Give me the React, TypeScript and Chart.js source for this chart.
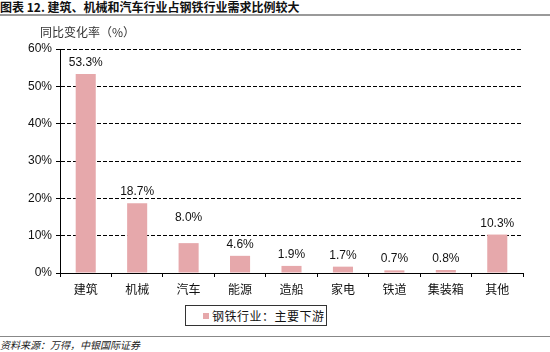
import React, { useEffect, useRef } from "react";
import { Chart, registerables } from "chart.js";

Chart.register(...registerables);

const categories = ["建筑", "机械", "汽车", "能源", "造船", "家电", "铁道", "集装箱", "其他"];
const values = [53.3, 18.7, 8.0, 4.6, 1.9, 1.7, 0.7, 0.8, 10.3];
const valueLabels = ["53.3%", "18.7%", "8.0%", "4.6%", "1.9%", "1.7%", "0.7%", "0.8%", "10.3%"];
const yTicks = [0, 10, 20, 30, 40, 50, 60];
const seriesName = "钢铁行业：主要下游";
const titleText = "图表 12. 建筑、机械和汽车行业占钢铁行业需求比例较大";
const yTitle = "同比变化率（%）";
const sourceText = "资料来源：万得，中银国际证券";

const BAR_COLOR = "#E6A8AB";
const CJK = '"Noto Sans CJK SC", sans-serif';
const LATIN = '"Liberation Sans", Arial, sans-serif';

const labelPlugin = {
  id: "valueLabels",
  afterDatasetsDraw(chart: any) {
    const ctx = chart.ctx;
    const meta = chart.getDatasetMeta(0);
    const yScale = chart.scales.y;
    const gridYs = yTicks.map((t) => yScale.getPixelForValue(t));
    ctx.save();
    ctx.font = `12px ${LATIN}`;
    ctx.fillStyle = "#111";
    ctx.textAlign = "center";
    ctx.textBaseline = "alphabetic";
    meta.data.forEach((bar: any, i: number) => {
      let base = bar.y - 8;
      const center = base - 4;
      // keep the label clear of a dashed gridline, as in the original
      for (const gy of gridYs) {
        if (Math.abs(gy - center) < 7 && gy < bar.y) {
          base = gy - 15;
          break;
        }
      }
      ctx.fillText(valueLabels[i], bar.x, base);
    });
    ctx.restore();
  },
};

export default function App() {
  const ref = useRef<HTMLCanvasElement>(null);
  useEffect(() => {
    if (!ref.current) return;
    const chart = new Chart(ref.current, {
      type: "bar",
      data: {
        labels: categories,
        datasets: [
          {
            label: seriesName,
            data: values,
            backgroundColor: BAR_COLOR,
            borderWidth: 0,
            barPercentage: 0.39,
            categoryPercentage: 1,
          },
        ],
      },
      options: {
        animation: false,
        responsive: false,
        maintainAspectRatio: false,
        layout: { padding: { left: 0, right: 27, top: 49, bottom: 0 } },
        plugins: {
          legend: { display: false },
          tooltip: { enabled: false },
        },
        scales: {
          x: {
            offset: true,
            grid: {
              display: true,
              drawOnChartArea: false,
              drawTicks: true,
              tickLength: 4,
              color: "#000",
              offset: true,
            },
            border: { display: true, color: "#000", width: 1 },
            ticks: {
              font: { family: CJK, size: 12 },
              color: "#111",
              padding: 5,
              maxRotation: 0,
              autoSkip: false,
            },
            afterFit(scale: any) {
              scale.height = 27;
            },
          },
          y: {
            min: 0,
            max: 60,
            afterBuildTicks(scale: any) {
              scale.ticks = yTicks.map((v) => ({ value: v }));
            },
            ticks: {
              font: { family: LATIN, size: 12 },
              color: "#111",
              padding: 4,
              callback: (v: any) => `${v}%`,
            },
            grid: {
              color: "#000",
              lineWidth: 1,
              tickLength: 4,
              tickBorderDash: [],
            },
            border: { display: true, color: "#000", width: 1, dash: [4, 2] },
            afterFit(scale: any) {
              scale.width = 60;
            },
          },
        },
      },
      plugins: [labelPlugin],
    });
    return () => chart.destroy();
  }, []);

  return (
    <div
      style={{
        position: "fixed",
        left: 0,
        top: 0,
        width: 550,
        height: 352,
        background: "#fff",
        overflow: "hidden",
        fontFamily: CJK,
      }}
    >
      <div
        style={{
          position: "absolute",
          left: 0,
          top: 0,
          fontSize: 12,
          lineHeight: "14px",
          fontWeight: 700,
          color: "#111",
          whiteSpace: "nowrap",
        }}
      >
        {titleText}
      </div>
      <div style={{ position: "absolute", left: 0, top: 14, width: 550, height: 2, background: "#9a9a9a" }} />
      <canvas
        ref={ref}
        width={550}
        height={300}
        style={{ position: "absolute", left: 0, top: 0, width: 550, height: 300 }}
      />
      <div
        style={{
          position: "absolute",
          left: 40,
          top: 25,
          fontSize: 12,
          lineHeight: "14px",
          color: "#333",
          whiteSpace: "nowrap",
        }}
      >
        {yTitle}
      </div>
      <div
        style={{
          position: "absolute",
          left: 185,
          top: 305,
          width: 140,
          height: 19,
          border: "1px solid #333",
          display: "flex",
          alignItems: "center",
          boxSizing: "content-box",
        }}
      >
        <span
          style={{ display: "inline-block", width: 6, height: 6, background: BAR_COLOR, marginLeft: 17, marginRight: 3 }}
        />
        <span style={{ fontSize: 12, lineHeight: "14px", color: "#111", whiteSpace: "nowrap", letterSpacing: 0.5 }}>
          {seriesName}
        </span>
      </div>
      <div style={{ position: "absolute", left: 0, top: 336, width: 550, height: 1, background: "#888" }} />
      <div
        style={{
          position: "absolute",
          left: 0,
          top: 339,
          fontSize: 10,
          lineHeight: "12px",
          fontStyle: "italic",
          color: "#222",
          whiteSpace: "nowrap",
        }}
      >
        {sourceText}
      </div>
    </div>
  );
}
